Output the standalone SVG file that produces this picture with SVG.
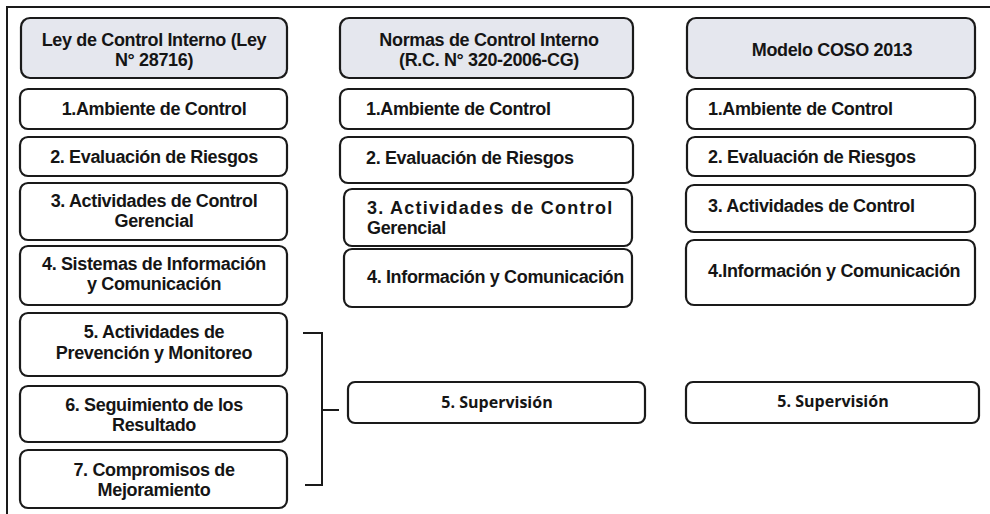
<svg xmlns="http://www.w3.org/2000/svg" width="990" height="514" viewBox="0 0 990 514">
<style>
.box{fill:#fff;stroke:#1a1a1a;stroke-width:2.2}
.hdr{fill:#e5e7ee;stroke:#1a1a1a;stroke-width:2.2}
.t{font-family:"Liberation Sans",Arial,sans-serif;font-weight:bold;font-size:18px;letter-spacing:-0.35px;fill:#151515}
.c{text-anchor:middle}
.s{font-family:"Open Sans","Liberation Sans",sans-serif;font-weight:bold;font-size:16px;fill:#151515;text-anchor:middle}
.ln{fill:none;stroke:#1a1a1a;stroke-width:2}
</style>
<rect width="990" height="514" fill="#fff"/>
<path class="ln" d="M7,514 V7 H990"/>

<g id="col1-header"><rect class="hdr" x="21" y="18" width="266" height="60" rx="9"/><text class="t c" x="154" y="46">Ley de Control Interno (Ley</text><text class="t c" x="154" y="66">N° 28716)</text></g>
<g id="col1-1"><rect class="box" x="20" y="89" width="267" height="40" rx="8"/><text class="t c" x="154" y="115">1.Ambiente de Control</text></g>
<g id="col1-2"><rect class="box" x="20" y="137" width="267" height="39" rx="8"/><text class="t c" x="154" y="163">2. Evaluación de Riesgos</text></g>
<g id="col1-3"><rect class="box" x="20" y="183" width="267" height="57" rx="8"/><text class="t c" x="154" y="207">3. Actividades de Control</text><text class="t c" x="154" y="227">Gerencial</text></g>
<g id="col1-4"><rect class="box" x="20" y="246" width="267" height="59" rx="8"/><text class="t c" x="154" y="270">4. Sistemas de Información</text><text class="t c" x="154" y="290">y Comunicación</text></g>
<g id="col1-5"><rect class="box" x="20" y="313" width="267" height="63" rx="8"/><text class="t c" x="154" y="338">5. Actividades de</text><text class="t c" x="154" y="359">Prevención y Monitoreo</text></g>
<g id="col1-6"><rect class="box" x="20" y="386" width="267" height="56" rx="8"/><text class="t c" x="154" y="411">6. Seguimiento de los</text><text class="t c" x="154" y="431">Resultado</text></g>
<g id="col1-7"><rect class="box" x="20" y="450" width="267" height="58" rx="8"/><text class="t c" x="154" y="476">7. Compromisos de</text><text class="t c" x="154" y="496">Mejoramiento</text></g>

<g id="col2-header"><rect class="hdr" x="340" y="18" width="293" height="60" rx="9"/><text class="t c" x="489" y="46">Normas de Control Interno</text><text class="t c" x="489" y="66">(R.C. N° 320-2006-CG)</text></g>
<g id="col2-1"><rect class="box" x="340" y="89" width="293" height="40" rx="8"/><text class="t" x="366" y="115">1.Ambiente de Control</text></g>
<g id="col2-2"><rect class="box" x="340" y="137" width="293" height="46" rx="8"/><text class="t" x="366" y="164">2. Evaluación de Riesgos</text></g>
<g id="col2-3"><rect class="box" x="344" y="189" width="288" height="57" rx="8"/><text class="t" x="367" y="214" textLength="245" lengthAdjust="spacing">3. Actividades de Control</text><text class="t" x="367" y="234">Gerencial</text></g>
<g id="col2-4"><rect class="box" x="344" y="249" width="288" height="58" rx="8"/><text class="t" x="367" y="283">4. Información y Comunicación</text></g>
<g id="col2-5"><rect class="box" x="348" y="382" width="297" height="41" rx="7"/><text class="s" x="497" y="408">5. Supervisión</text></g>

<g id="col3-header"><rect class="hdr" x="687" y="18" width="288" height="60" rx="9"/><text class="t c" x="832" y="56">Modelo COSO 2013</text></g>
<g id="col3-1"><rect class="box" x="687" y="89" width="288" height="40" rx="8"/><text class="t" x="708" y="115">1.Ambiente de Control</text></g>
<g id="col3-2"><rect class="box" x="687" y="137" width="288" height="39" rx="8"/><text class="t" x="708" y="163">2. Evaluación de Riesgos</text></g>
<g id="col3-3"><rect class="box" x="686" y="185" width="289" height="47" rx="8"/><text class="t" x="708" y="212">3. Actividades de Control</text></g>
<g id="col3-4"><rect class="box" x="686" y="240" width="289" height="65" rx="8"/><text class="t" x="708" y="277">4.Información y Comunicación</text></g>
<g id="col3-5"><rect class="box" x="686" y="382" width="293" height="41" rx="7"/><text class="s" x="833" y="407">5. Supervisión</text></g>

<g id="connectors"><path class="ln" d="M303,333 H322 V485 H305"/><path class="ln" d="M322,410 H339"/></g>
</svg>
